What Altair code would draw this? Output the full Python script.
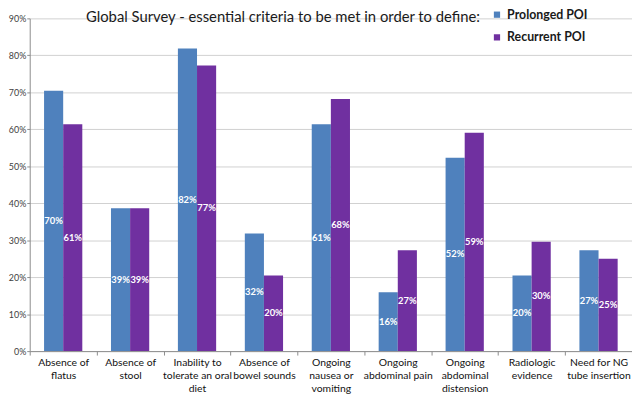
import altair as alt
import pandas as pd

title_text = "Global Survey - essential criteria to be met in order to define:"
categories = [
    "Absence of\nflatus",
    "Absence of\nstool",
    "Inability to\ntolerate an oral\ndiet",
    "Absence of\nbowel sounds",
    "Ongoing\nnausea or\nvomiting",
    "Ongoing\nabdominal pain",
    "Ongoing\nabdominal\ndistension",
    "Radiologic\nevidence",
    "Need for NG\ntube insertion",
]
series = ["Prolonged POI", "Recurrent POI"]
prolonged = [70.45, 38.64, 81.82, 31.82, 61.36, 15.91, 52.27, 20.45, 27.27]
recurrent = [61.36, 38.64, 77.27, 20.45, 68.18, 27.27, 59.09, 29.55, 25.00]
y_ticks = [0, 10, 20, 30, 40, 50, 60, 70, 80, 90]
colors = ["#4F81BD", "#7030A0"]

rows = []
for c, p, r in zip(categories, prolonged, recurrent):
    rows.append({"category": c, "series": series[0], "value": p})
    rows.append({"category": c, "series": series[1], "value": r})
df = pd.DataFrame(rows)

FONT = "Lato"

x = alt.X(
    "category:N",
    sort=categories,
    scale=alt.Scale(paddingInner=0, paddingOuter=0),
    axis=alt.Axis(
        title=None,
        labelAngle=0,
        labelExpr="split(datum.label, '\\n')",
        labelFont=FONT,
        labelFontSize=10.5,
        labelColor="#111111",
        labelLineHeight=13,
        labelPadding=3,
        labelOverlap=False,
        tickBand="extent",
        tickSize=4,
        tickColor="#8C8C8C",
        domainColor="#8C8C8C",
        grid=False,
    ),
)
xo = alt.XOffset("series:N", sort=series, scale=alt.Scale(paddingOuter=0.75, paddingInner=0))
y_scale = alt.Scale(domain=[0, 90], nice=False)
y_axis = alt.Axis(
    title=None,
    values=y_ticks,
    labelExpr="datum.value + '%'",
    labelFont=FONT,
    labelFontSize=9,
    labelColor="#404040",
    labelPadding=1,
    labelOverlap=False,
    tickSize=3,
    tickColor="#8C8C8C",
    domainColor="#8C8C8C",
    gridColor="#D0D0D0",
)

bars = alt.Chart(df).mark_bar().encode(
    x=x,
    xOffset=xo,
    y=alt.Y("value:Q", scale=y_scale, axis=y_axis),
    color=alt.Color(
        "series:N",
        sort=series,
        scale=alt.Scale(domain=series, range=colors),
        legend=alt.Legend(
            title=None,
            orient="none",
            legendX=467,
            legendY=-10,
            symbolType="square",
            symbolSize=40,
            symbolStrokeWidth=0,
            labelFont=FONT,
            labelFontSize=12.5,
            labelFontWeight="bold",
            labelColor="#1a1a1a",
            rowPadding=10,
            padding=0,
            labelOffset=4,
        ),
    ),
)

texts = alt.Chart(df).transform_calculate(
    mid="datum.value / 2",
    lbl="format(datum.value, '.0f') + '%'",
).mark_text(color="white", fontWeight="bold", fontSize=9.5, font=FONT).encode(
    x=x,
    xOffset=xo,
    y=alt.Y("mid:Q", scale=y_scale, axis=y_axis),
    text="lbl:N",
)

title = alt.Chart(pd.DataFrame({"t": [title_text]})).mark_text(
    align="left", baseline="alphabetic", font=FONT, fontSize=15, color="#1a1a1a"
).encode(x=alt.value(57), y=alt.value(4), text="t:N")

chart = (
    alt.layer(bars, texts, title)
    .properties(
        width=610,
        height=337,
        autosize=alt.AutoSizeParams(type="none"),
        padding={"left": 22, "top": 8, "right": 0, "bottom": 46},
    )
    .configure_view(stroke=None)
)

chart.save("out.html", embed_options={"renderer": "svg", "actions": False})
